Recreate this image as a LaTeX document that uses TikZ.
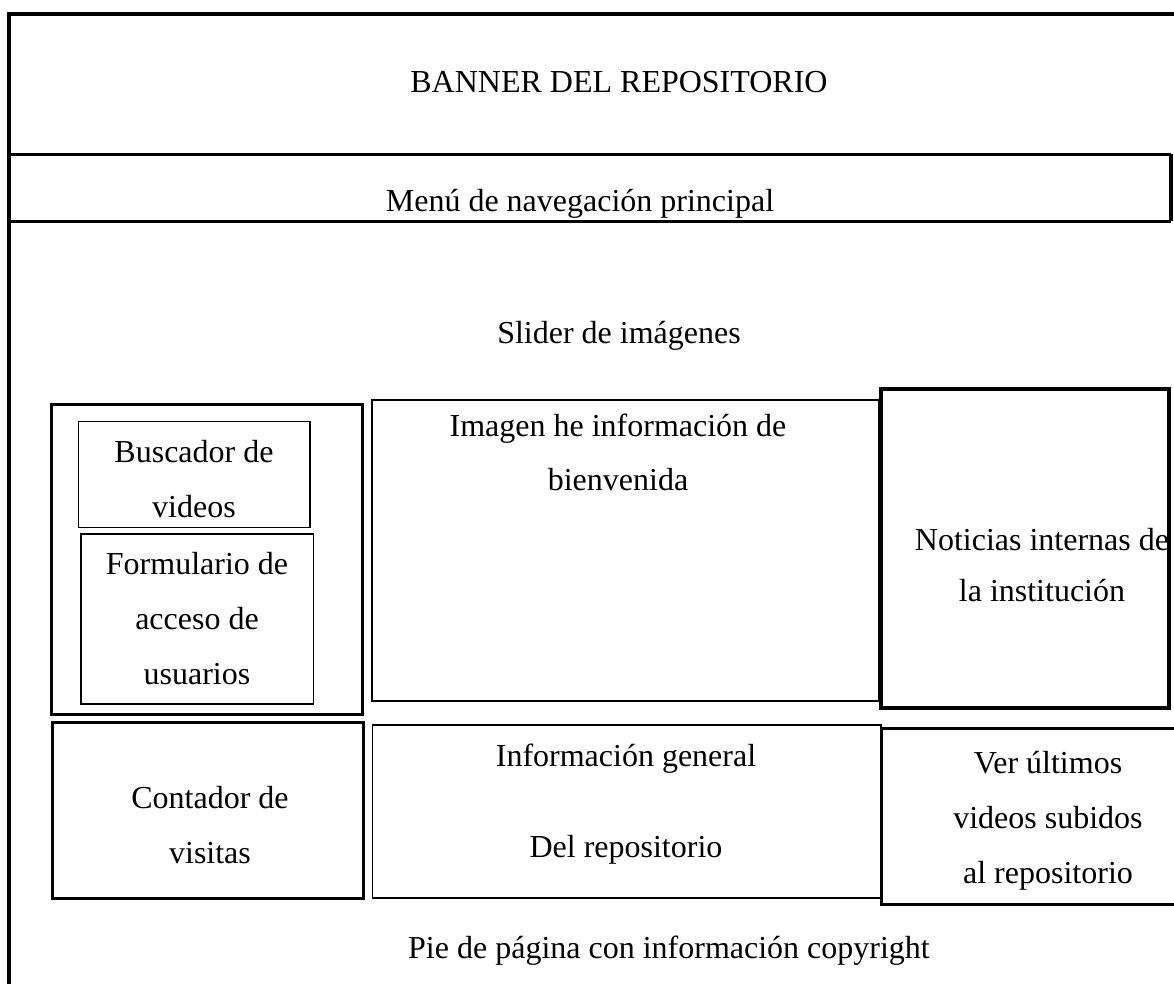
\documentclass[tikz,border=0pt]{standalone}
\usepackage{fontspec}
\setmainfont{Liberation Serif}
\begin{document}
\begin{tikzpicture}[x=0.5pt,y=-0.5pt,
                    frame/.style={line width=2pt},
                    thickbox/.style={line width=1.5pt},
                    midbox/.style={line width=1pt},
                    thinbox/.style={line width=0.75pt},
                    txt/.style={anchor=base,align=center,inner sep=0pt,
                                font=\fontsize{16}{27.5}\selectfont}]
    \useasboundingbox (0,0) rectangle (1174,984);
    % marco, banner y menu
    \draw[frame] (9,1000) -- (9,14) -- (1180,14);
    \draw[thickbox] (9,154.5) -- (1171,154.5);
    \draw[line width=1.8pt] (1171,154.5) -- (1171,221.5);
    \draw[line width=1.2pt] (9,221.5) -- (1171,221.5);
    % columna izquierda
    \draw[thickbox] (51,405) rectangle (362.5,714.5);
    \draw[thinbox] (78.5,421.5) rectangle (310,527.5);
    \draw[thinbox] (81,534) rectangle (313.5,704);
    \draw[thickbox] (52,722.5) rectangle (363.5,898.5);
    % columna central
    \draw[midbox] (371.5,400) rectangle (879,700.5);
    \draw[thinbox] (372.5,725) rectangle (881,898);
    % columna derecha
    \draw[line width=1.75pt] (881,389) rectangle (1169,708);
    \draw[thickbox] (1180,728.5) -- (881.5,728.5) -- (881.5,904) -- (1180,904);
    % textos (base = ultima linea)
    \node[txt] (banner) at (619,93) {BANNER DEL REPOSITORIO};
    \node[txt] (menu) at (580,212) {Menú de navegación principal};
    \node[txt] (slider) at (619,344) {Slider de imágenes};
    \node[txt] (buscador) at (194,517) {Buscador de\\videos};
    \node[txt] (formulario) at (197,684) {Formulario de\\acceso de\\usuarios};
    \node[txt] (bienvenida) at (618,491) {Imagen he información de\\bienvenida};
    \node[txt,font=\fontsize{16}{25}\selectfont] (noticias) at (1042,601) {Noticias internas de\\la institución};
    \node[txt] (contador) at (210,863) {Contador de\\visitas};
    \node[txt] (infogeneral) at (626,766) {Información general};
    \node[txt] (delrepo) at (626,857) {Del repositorio};
    \node[txt] (ultimos) at (1048,883) {Ver últimos\\videos subidos\\al repositorio};
    \node[txt] (pie) at (669,958) {Pie de página con información copyright};
\end{tikzpicture}
\end{document}
